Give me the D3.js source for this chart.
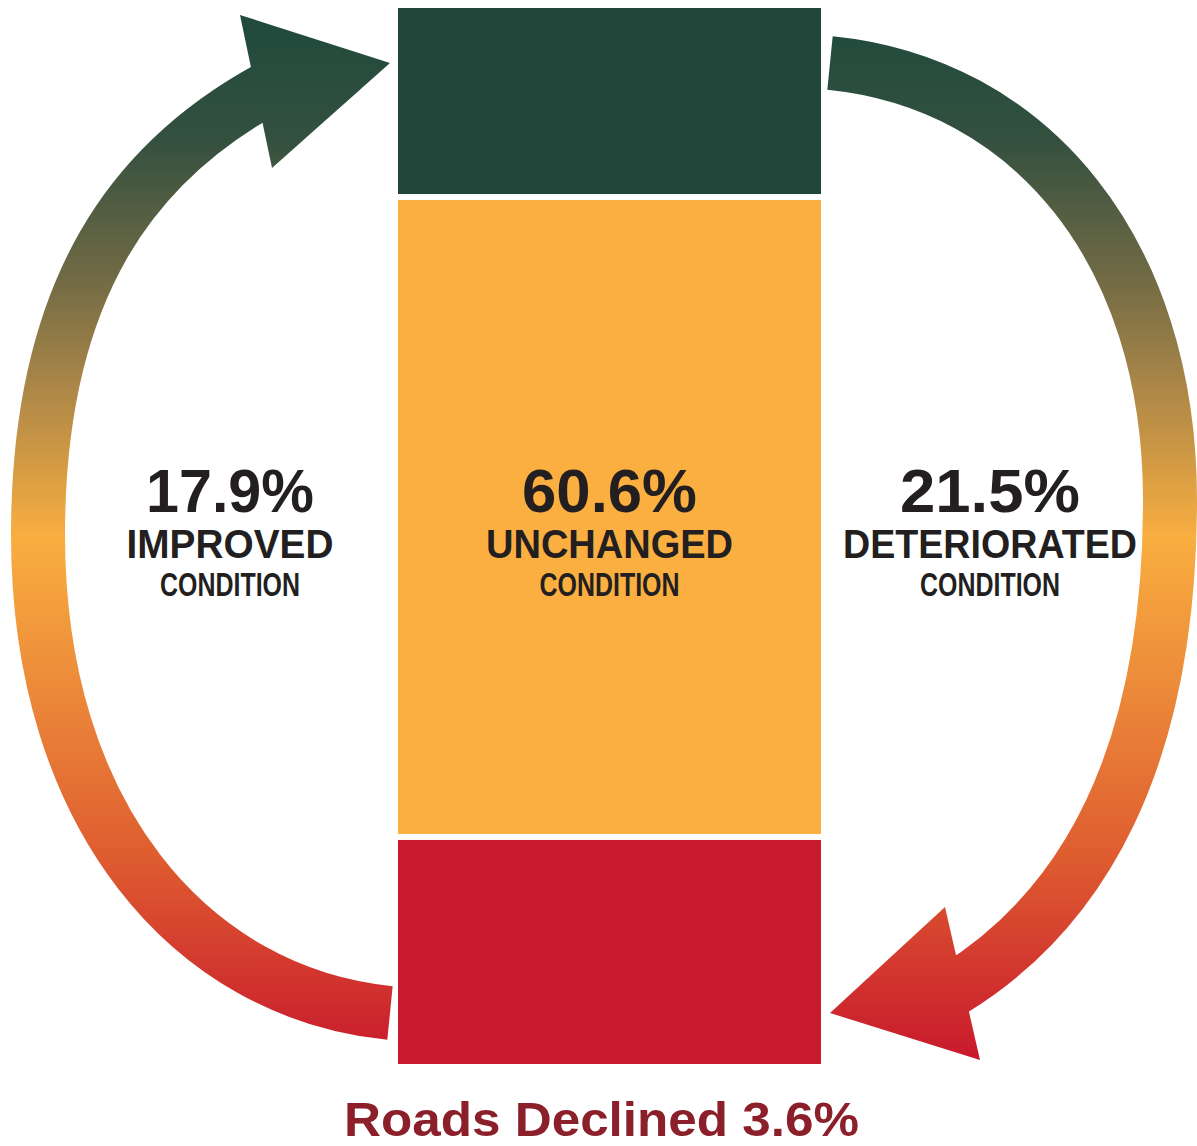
<!DOCTYPE html>
<html>
<head>
<meta charset="utf-8">
<script src="https://cdn.jsdelivr.net/npm/d3@7"></script>
<style>
  html, body { margin: 0; padding: 0; background: #fff; }
  svg { display: block; }
</style>
</head>
<body>
<svg id="plot"></svg>
<script>
// data
let categories = ["Improved", "Unchanged", "Deteriorated"];
let values = [17.9, 60.6, 21.5];
let mainLabels = ["IMPROVED", "UNCHANGED", "DETERIORATED"];
let subLabels = ["CONDITION", "CONDITION", "CONDITION"];
let title = "Roads Declined 3.6%";

let svgwidth = 1197, svgheight = 1146;
let svg = d3.select("#plot").attr("width", svgwidth).attr("height", svgheight);

let barColors = ["#21473b", "#fbaf41", "#c91b2d"];
let gap = 3;

// scales
let x_scale = d3.scaleBand(["Roads"], [398, 821]).padding(0);
let y_scale = d3.scaleLinear([0, 100], [8, 1064]);

let ends = d3.cumsum(values);
let segs = values.map((v, i) => ({ cat: categories[i], v: v, y0: ends[i] - v, y1: ends[i], i: i }));

// gradient for the arrows
let defs = svg.append("defs");
let grad = defs.append("linearGradient")
  .attr("id", "arrowGrad")
  .attr("gradientUnits", "userSpaceOnUse")
  .attr("x1", 0).attr("y1", 15).attr("x2", 0).attr("y2", 1060);
let stops = [
  [0, "#1f4a3c"], [0.12, "#34503f"], [0.25, "#706a45"], [0.35, "#a88548"],
  [0.5, "#f9ae40"], [0.64, "#ec8b3a"], [0.8, "#df5e30"], [1, "#c8192d"]
];
grad.selectAll("stop").data(stops).join("stop")
  .attr("offset", d => d[0])
  .attr("stop-color", d => d[1]);

// arrows
let gArrows = svg.append("g");

let left = d3.path();
left.moveTo(390, 1013);
left.bezierCurveTo(190, 993, 38, 815, 38, 535);
left.bezierCurveTo(38, 285, 136, 161, 267, 89);

let right = d3.path();
right.moveTo(830, 63);
right.bezierCurveTo(1030, 83, 1170, 250, 1170, 500);
right.bezierCurveTo(1170, 760, 1082, 910, 954, 989);

gArrows.selectAll("path.shaft")
  .data([left.toString(), right.toString()])
  .join("path")
  .attr("class", "shaft")
  .attr("d", d => d)
  .attr("fill", "none")
  .attr("stroke", "url(#arrowGrad)")
  .attr("stroke-width", 54);

let heads = [
  [[240, 15], [390, 63], [272, 168]],
  [[945, 907], [830, 1013], [980, 1060]]
];
gArrows.selectAll("path.head")
  .data(heads)
  .join("path")
  .attr("class", "head")
  .attr("d", d => d3.line()(d) + "Z")
  .attr("fill", "url(#arrowGrad)");

// stacked bar
svg.append("g").selectAll("rect")
  .data(segs)
  .join("rect")
  .attr("x", x_scale("Roads"))
  .attr("width", x_scale.bandwidth())
  .attr("y", d => y_scale(d.y0) + (d.i > 0 ? gap : 0))
  .attr("height", d => y_scale(d.y1) - y_scale(d.y0) - (d.i > 0 ? gap : 0) - (d.i < segs.length - 1 ? gap : 0))
  .attr("fill", (d, i) => barColors[i]);

// labels
let barLeft = x_scale("Roads"), barRight = barLeft + x_scale.bandwidth();
let labelX = [barLeft - 168, (barLeft + barRight) / 2, barRight + 169];
let mainLen = [207, 247, 294];
let numLen = [168, 175, 180];

let gLab = svg.append("g").attr("fill", "#231f20").attr("text-anchor", "middle");
segs.forEach((d, i) => {
  gLab.append("text")
    .attr("x", labelX[i]).attr("y", 512)
    .attr("textLength", numLen[i]).attr("lengthAdjust", "spacingAndGlyphs")
    .style("font", "bold 62px 'Liberation Sans', Arial, sans-serif")
    .text(d3.format(".1f")(d.v) + "%");
  gLab.append("text")
    .attr("x", labelX[i]).attr("y", 558)
    .attr("textLength", mainLen[i]).attr("lengthAdjust", "spacingAndGlyphs")
    .style("font", "bold 40px 'Liberation Sans Narrow', 'Liberation Sans', sans-serif")
    .text(mainLabels[i]);
  gLab.append("text")
    .attr("x", labelX[i]).attr("y", 596)
    .attr("textLength", 140).attr("lengthAdjust", "spacingAndGlyphs")
    .style("font", "bold 34px 'Liberation Sans Narrow', 'Liberation Sans', sans-serif")
    .text(subLabels[i]);
});

svg.append("text")
  .attr("x", (barLeft + barRight) / 2 - 8)
  .attr("y", 1136)
  .attr("text-anchor", "middle")
  .attr("textLength", 515).attr("lengthAdjust", "spacingAndGlyphs")
  .attr("fill", "#8b1f2a")
  .style("font", "bold 49px 'Liberation Sans', Arial, sans-serif")
  .text(title);
</script>
</body>
</html>
